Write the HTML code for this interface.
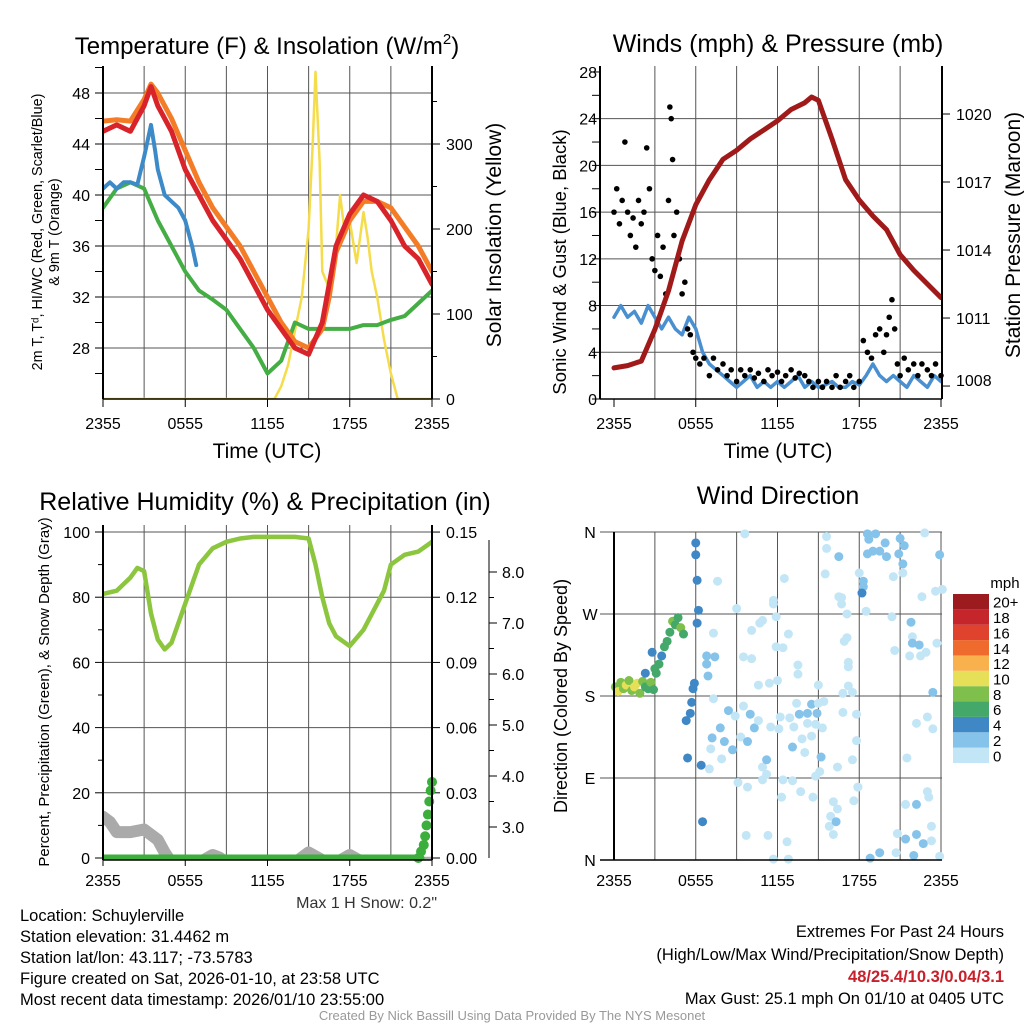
<!DOCTYPE html>
<html><head><meta charset="utf-8"><style>
html,body{margin:0;padding:0;background:#fff;}
svg{display:block;font-family:"Liberation Sans",Arial,sans-serif;}
</style></head><body>
<svg id="c" width="1024" height="1024" viewBox="0 0 1024 1024" xmlns="http://www.w3.org/2000/svg"></svg>
<script>
// ---------- DATA ----------
const hourTimes=[0,1,2,3,3.5,4,5,6,7,8,9,10,11,12,13,14,15,16,16.5,17,18,19,20,21,22,23,24];
const tempValues=[45,45.5,45,47,48.5,47,45,42,40,38,36.5,35,33,31,29.5,28,27.5,30,33,36,38.5,40,39.5,38,36,35,33];
const temp9mValues=[45.8,45.9,45.8,47.5,48.7,48,46,43.5,41,39,37.5,36,34,32,30,28.5,28,29.5,32,35.5,38,39.5,39.5,39,37.5,36,34];
const dewTimes=[0,1,2,3,4,5,6,7,8,9,10,11,12,13,14,15,16,17,18,19,20,21,22,23,24];
const dewValues=[39,40.5,41,40.5,38,36,34,32.5,31.8,31,29.5,28,26,27,30,29.5,29.5,29.5,29.5,29.8,29.8,30.2,30.5,31.5,32.5];
const chillTimes=[0,0.5,1,1.5,2,2.5,3,3.2,3.5,3.8,4,4.5,5,5.5,6,6.5,6.8];
const chillValues=[40.5,41,40.5,41,41,40.8,43,44,45.5,43.5,42,40,39.5,39,38,36,34.5];
const solarTimes=[0,12.5,13,13.5,14,14.5,15,15.3,15.5,15.8,16,16.5,17,17.3,17.6,18,18.5,19,19.3,19.6,20,20.5,21,21.5,24];
const solarValues=[0,0,15,40,80,120,200,300,385,280,150,130,180,240,200,210,160,220,190,150,120,70,30,0,0];

const windTimes=[];for(let i=0;i<=48;i++)windTimes.push(i/2);
const windValues=[7,8,7,7.5,6.5,8,7,6,7,6,5.5,7,6,4,3,2.5,2,1.5,1,1.5,2,1,1.5,1,1.5,1,1.5,2,1,1.5,1,1.2,1.5,1,1,1.5,1.2,2,3,2,1.5,2,1.5,1,2,1.5,1,2,1.5];
const gustTimes=[0,0.2,0.4,0.6,0.8,1,1.2,1.4,1.6,1.8,2,2.2,2.4,2.6,2.8,3,3.2,3.4,3.6,3.8,4,4.1,4.2,4.3,4.4,4.6,4.8,5,5.2,5.4,5.6,5.8,6,6.3,6.6,7,7.3,7.6,8,8.3,8.6,9,9.3,9.6,10,10.3,10.6,11,11.3,11.6,12,12.3,12.6,13,13.3,13.6,14,14.3,14.6,15,15.3,15.6,16,16.3,16.6,17,17.3,17.6,18,18.3,18.6,18.9,19.2,19.5,19.8,20,20.2,20.4,20.6,20.8,21,21.3,21.6,22,22.3,22.6,23,23.3,23.6,24];
const gustValues=[16,18,15,17,22,16,14,15.5,13,17,15,16,21.5,18,12,11,14,10.5,13,9,17,25,24,20.5,14,16,12,9,10,6,5.5,4,3.5,3,3.5,2,3.5,2.5,3,2,2.5,1.5,2.5,2,2.5,1.8,2.2,1.5,2.5,2,2.3,1.5,2,2.5,1.8,2.2,2,1.5,1,1.5,1,1.5,1,2,1,1.5,2,1,1.5,5,4,3.5,5.5,6,4,5.5,7,8.5,6,3,2,3.5,2.5,3,2,3,2.5,2,3,2];
const presTimes=[0,1,2,3,4,5,6,7,8,9,10,11,12,13,14,14.5,15,16,17,18,19,20,21,22,23,24];
const presValues=[1008.8,1008.9,1009.1,1010.5,1012.2,1014.4,1016.0,1017.1,1018.0,1018.4,1018.9,1019.3,1019.7,1020.2,1020.5,1020.75,1020.6,1018.9,1017.1,1016.2,1015.5,1014.9,1013.8,1013.1,1012.5,1011.9];

const rhTimes=[0,1,2,2.5,3,3.5,4,4.5,5,6,7,8,9,10,11,12,13,14,15,15.5,16,16.5,17,18,19,20,20.5,21,22,23,24];
const rhValues=[81,82,86,89,88,75,67,64,66,78,90,95,97,98,98.5,98.5,98.5,98.5,98,90,80,72,68,65,70,78,82,90,93,94,97];
const precipTimes=[0,3,6,9,12,15,18,21,23,23.2,23.4,23.5,23.6,23.7,23.8,23.9,24];
const precipValues=[0,0,0,0,0,0,0,0,0,0.003,0.006,0.01,0.015,0.02,0.026,0.031,0.035];
const snowTimes=[0,0.5,1,2,3,4,4.5,5,6,7,8,8.5,9,12,14,15,16,17,18,19,20,22,24];
const snowValues=[3.2,3.1,2.9,2.9,2.95,2.75,2.5,2.3,2.3,2.3,2.45,2.4,2.3,2.3,2.3,2.5,2.35,2.3,2.45,2.3,2.3,2.3,2.3];

const dirTimes=[0.1,0.3,0.5,0.7,0.9,1.1,1.3,1.5,1.7,1.9,2.1,2.3,2.5,2.7,2.9,3.1,3.3,3.5,3.7,3.9,4.1,4.3,4.5,4.7,4.9,5.1,2.3,2.8,3.0,
6.0,6.0,6.1,6.2,6.1,5.9,5.8,5.7,5.6,5.3,5.4,6.4,6.5,
9.6,7.6,9.0,7.3,6.8,7.4,6.8,6.9,7.3,8.4,8.9,7.8,7.2,8.1,8.7,9.5,10,10.3,9.3,9.8,7.1,7.9,7.0,9.1,9.8,9.7,11.3,11.7,12.8,12.7,10.9,11.2,11.2,10.9,12.4,13.1,12.3,13.7,14.6,15.1,14.8,15.2,13.1,14,13.8,14.5,15.3,14.8,14.2,13.6,14.2,14.9,14.5,13.4,12.9,13.2,12.2,12.1,11.5,10.6,10.6,11.4,12.0,13.5,13.5,10.1,9.5,11.9,12.4,12.8,10.1,10.7,10.9,11.9,11.7,11.7,12.5,
15.6,15.6,16.5,15.5,16.7,16.7,17.1,17.1,16.9,17.2,17.2,17.2,17.5,16.8,16.8,17.8,17.8,17.5,16.4,17.9,17.6,16.1,16.4,15.9,15.8,16.1,16.3,15,15.4,15.0,
18,18.3,18.3,18.2,18.5,18.6,18.7,19.2,19,18.6,19.5,19.9,20,20.5,20.4,20.6,21,21.3,20.9,21.2,21.2,21.8,21.9,21.9,22.4,21.7,22.5,22.9,22.6,22.8,23.6,24.1,23.9,23.7,23.4,22.2,23,23.4,21.5,21.4,22.2,23,23.1,23.3,22.2,20.8,21.4,22.7,23.3,20.7,22,19.5,18.8,23.9,17.9,16.5];
const dirValues=[190,185,195,188,192,197,186,190,194,183,196,190,188,195,187,205,215,224,234,240,250,262,258,266,255,248,205,228,210,
348,335,307,274,260,194,188,173,161,153,112,104,42,
358,306,276,249,224,223,215,202,177,164,158,145,134,130,121,169,160,145,135,130,122,111,100,85,80,27,27,1,1,20,102,110,94,88,88,87,69,75,69,97,92,113,124,118,133,136,145,149,150,160,161,161,171,172,156,146,157,144,146,153,192,194,197,204,214,221,223,234,233,248,252,260,263,267,285,281,309,
355,342,333,314,288,281,270,244,240,217,212,191,184,183,162,160,131,110,102,80,65,64,56,48,37,28,42,192,174,172,
315,306,300,293,273,358,352,358,339,336,339,348,333,311,267,230,353,345,336,325,315,261,245,238,236,224,224,228,289,359,295,297,335,238,184,150,157,144,112,61,61,75,69,37,28,29,23,18,21,8,5,8,2,4,80,289];
const dirSpeeds=[9,10,9,8,11,9,8,10,11,9,8,7,7,8,6,7,6,5,7,7,7,8,7,7,9,7,5,5,7,
5,5,5,4,5,5,5,5,5,5,5,5,5,
1,1,1,1,3,3,3,3,1,3,1,3,3,3,3,1,3,3,1,3,1,1,1,1,1,1,1,1,1,1,1,3,1,1,1,1,1,1,1,1,1,3,3,1,1,1,1,1,1,3,3,3,3,1,1,1,1,1,1,1,1,1,1,1,1,1,1,1,1,1,1,1,1,1,1,1,1,
1,1,3,1,1,1,1,1,1,1,1,1,1,1,1,1,1,1,1,1,1,1,1,1,1,1,3,1,1,1,
1,3,3,5,1,3,3,3,3,3,3,3,3,1,1,1,3,3,3,3,1,3,1,3,3,1,1,1,1,1,1,1,3,1,3,1,1,1,1,1,3,1,1,1,3,1,3,3,1,1,3,3,3,1,1,1];
const speedBins=[0,2,4,6,8,10,12,14,16,18,20];
const speedColors=["#c3e6f7","#86c3ea","#3f88c5","#45a86b","#7ec04b","#e6df58","#f8b14d","#ef6b2d","#e0432d","#c5262b","#9b1b1e"];
const speedLabels=["0","2","4","6","8","10","12","14","16","18","20+"];

// ---------- helpers ----------
const S=document.getElementById('c');const NS='http://www.w3.org/2000/svg';
function mk(tag,a,p){const e=document.createElementNS(NS,tag);for(const k in a)e.setAttribute(k,a[k]);(p||S).appendChild(e);return e;}
function txt(x,y,s,size,anchor,name,extra){const e=mk('text',Object.assign({x:x,y:y,'font-size':size,'text-anchor':anchor||'middle',fill:'#000'},extra||{}));e.textContent=s;


return e;}
function line(x1,y1,x2,y2,st,w,name){const e=mk('line',{x1:x1,y1:y1,x2:x2,y2:y2,stroke:st,'stroke-width':w});


return e;}
function path(ts,vs,fx,fy,col,w,name,clip){let d='';let pen=false;for(let i=0;i<ts.length;i++){if(vs[i]===null){pen=false;continue;}d+=(pen?'L':'M')+fx(ts[i]).toFixed(1)+','+fy(vs[i]).toFixed(1);pen=true;}
const e=mk('path',{d:d,fill:'none',stroke:col,'stroke-width':w,'stroke-linejoin':'round','stroke-linecap':'round'});if(clip)e.setAttribute('clip-path','url(#'+clip+')');


return e;}
const defs=mk('defs',{});
function clipRect(id,x,y,w,h){const c=mk('clipPath',{id:id},defs);mk('rect',{x:x,y:y,width:w,height:h},c);}
const timeLabels=["2355","0555","1155","1755","2355"];
const timeTicks=[0,6,12,18,24];
const TK=16;

// ---------- PANEL 1 ----------
const x1=h=>103+h*13.708;const yT=t=>399-(t-24)*12.75;const yS=s=>399-s*0.85;
clipRect('c1',103,66,329,333);
for(let h=3;h<24;h+=3)line(x1(h),66,x1(h),399,'#555',1,'p1-vgrid');
for(let t=28;t<=48;t+=4)line(103,yT(t),432,yT(t),'#555',1,'p1-hgrid');
for(let t=26;t<=50;t+=2)line(95,yT(t),103,yT(t),'#000',1,'p1-ytick');
for(let s=0;s<=300;s+=100)line(432,yS(s),440,yS(s),'#000',1,'p1-y2tick');
for(let s=50;s<=350;s+=100)line(432,yS(s),437,yS(s),'#000',1,'p1-y2tick-minor');
timeTicks.forEach((h,i)=>{line(x1(h),399,x1(h),407,'#000',1,'p1-xtick');txt(x1(h),429,timeLabels[i],TK,'middle','p1-xlabel');});
for(let t=28;t<=48;t+=4)txt(90,yT(t)+6,String(t),TK,'end','p1-ylabel');
for(let s=0;s<=300;s+=100)txt(446,yS(s)+6,String(s),TK,'start','p1-y2label');
path(solarTimes,solarValues,x1,yS,'#f5dc4a',2.5,'solar-line','c1');
path(dewTimes,dewValues,x1,yT,'#44ad44',4,'dewpoint-line','c1');
path(hourTimes,temp9mValues,x1,yT,'#f47c26',5,'temp-9m-line','c1');
path(hourTimes,tempValues,x1,yT,'#d8232a',5,'temp-2m-line','c1');
path(chillTimes,chillValues,x1,yT,'#3c8ac8',4,'windchill-line','c1');
line(103,66,103,399,'#000',2,'p1-left-axis');line(432,66,432,399,'#000',2,'p1-right-axis');line(103,399,432,399,'#000',1.5,'p1-bottom-axis');
const t1=txt(267,54,'Temperature (F) & Insolation (W/m',24,'middle','p1-title');const sup=mk('tspan',{dy:-10,'font-size':15},t1);sup.textContent='2';const sp2=mk('tspan',{dy:10},t1);sp2.textContent=')';
txt(267,458,'Time (UTC)',21,'middle','p1-x-title');
txt(0,0,'2m T, T\u1D48, HI/WC (Red, Green, Scarlet/Blue)',14.4,'middle','p1-y-title',{transform:'translate(42,232) rotate(-90)'});
txt(0,0,'& 9m T (Orange)',14.4,'middle','p1-y-title-2',{transform:'translate(59,232) rotate(-90)'});
txt(0,0,'Solar Insolation (Yellow)',21,'middle','p1-y2-title',{transform:'translate(501,235) rotate(-90)'});

// ---------- PANEL 2 ----------
const x2=h=>614+h*13.625;const yW=v=>399-v*11.68;const yP=p=>114+(1020-p)*22.67;
clipRect('c2',600,66,342,333);
for(let h=3;h<24;h+=3)line(x2(h),66,x2(h),399,'#555',1,'p2-vgrid');
for(let v=4;v<=24;v+=4)line(600,yW(v),942,yW(v),'#555',1,'p2-hgrid');
for(let v=0;v<=28;v+=2)line(592,yW(v),600,yW(v),'#000',1,'p2-ytick');
for(let p=1008;p<=1020;p+=3)line(942,yP(p),950,yP(p),'#000',1,'p2-y2tick');
timeTicks.forEach((h,i)=>{line(x2(h),399,x2(h),407,'#000',1,'p2-xtick');txt(x2(h),429,timeLabels[i],TK,'middle','p2-xlabel');});
for(let v=0;v<=28;v+=4)txt(597,yW(v)+6,String(v),TK,'end','p2-ylabel');
for(let p=1008;p<=1020;p+=3)txt(956,Math.min(yP(p),380)+6,String(p),TK,'start','p2-y2label');
path(windTimes,windValues,x2,yW,'#4a8fd0',3.5,'sonic-wind-line','c2');
gustTimes.forEach((h,i)=>{const c=mk('circle',{cx:x2(h),cy:yW(gustValues[i]),r:2.8,fill:'#000'});

});
path(presTimes,presValues,x2,yP,'#a01a1a',5,'pressure-line','c2');
line(600,66,600,399,'#000',2,'p2-left-axis');line(942,66,942,399,'#000',2,'p2-right-axis');line(600,399,942,399,'#000',1.5,'p2-bottom-axis');
txt(778,52,'Winds (mph) & Pressure (mb)',25,'middle','p2-title');
txt(778,458,'Time (UTC)',21,'middle','p2-x-title');
txt(0,0,'Sonic Wind & Gust (Blue, Black)',18.5,'middle','p2-y-title',{transform:'translate(566,262) rotate(-90)'});
txt(0,0,'Station Pressure (Maroon)',21,'middle','p2-y2-title',{transform:'translate(1020,235) rotate(-90)'});

// ---------- PANEL 3 ----------
const x3=x1;const yRH=r=>858-r*3.26;const yPr=p=>858-p*2173;const ySn=d=>827-(d-3)*51;
clipRect('c3',103,525,329,335);
for(let h=3;h<24;h+=3)line(x3(h),525,x3(h),860,'#555',1,'p3-vgrid');
for(let r=0;r<=100;r+=20)line(103,yRH(r),432,yRH(r),'#555',1,'p3-hgrid');
for(let r=0;r<=100;r+=20)line(95,yRH(r),103,yRH(r),'#000',1,'p3-ytick');
for(let r=10;r<=90;r+=20)line(98,yRH(r),103,yRH(r),'#000',1,'p3-ytick-minor');
for(let k=0;k<=5;k++)line(432,yPr(k*0.03),440,yPr(k*0.03),'#000',1,'p3-y2tick');
line(489,540,489,858,'#000',1,'snow-axis');
for(let d=3;d<=8;d++)line(489,ySn(d),497,ySn(d),'#000',1,'snow-tick');
for(let d=3.5;d<=8;d++)line(489,ySn(d),494,ySn(d),'#000',1,'snow-tick-minor');
timeTicks.forEach((h,i)=>{line(x3(h),860,x3(h),866,'#000',1,'p3-xtick');txt(x3(h),886,timeLabels[i],TK,'middle','p3-xlabel');});
for(let r=0;r<=100;r+=20)txt(90,yRH(r)+6,String(r),TK,'end','p3-ylabel');
for(let k=0;k<=5;k++)txt(446,yPr(k*0.03)+6,(k*0.03).toFixed(2),TK,'start','p3-y2label');
for(let d=3;d<=8;d++)txt(502,ySn(d)+6,d.toFixed(1),TK,'start','snow-label');
path(snowTimes,snowValues,x3,ySn,'#aaaaaa',12,'snow-depth-line','c3');
path(rhTimes,rhValues,x3,yRH,'#8cc63f',4.5,'rh-line','c3');
path([0,23.2],[0,0],x3,yPr,'#3cae3c',7,'precip-baseline','c3');
precipTimes.forEach((h,i)=>{if(h<23)return;const c=mk('circle',{cx:x3(h),cy:yPr(precipValues[i]),r:5,fill:'#3cae3c'});

});
line(103,525,103,860,'#000',2,'p3-left-axis');line(432,525,432,860,'#000',2,'p3-right-axis');line(103,860,432,860,'#000',1.5,'p3-bottom-axis');
txt(265,510,'Relative Humidity (%) & Precipitation (in)',25,'middle','p3-title');
txt(0,0,'Percent, Precipitation (Green), & Snow Depth (Gray)',15,'middle','p3-y-title',{transform:'translate(49,692) rotate(-90)'});
txt(437,908,'Max 1 H Snow: 0.2"',16,'end','max-snow-note',{fill:'#333'});

// ---------- PANEL 4 ----------
const x4=x2;const yD=d=>860-d*0.9111;
const dirNames=['N','E','S','W','N'];
for(let h=0;h<=24;h+=3)line(x4(h),532,x4(h),860,'#555',1,'p4-vgrid');
for(let k=0;k<=4;k++){line(600,yD(k*90),942,yD(k*90),'#555',1,'p4-hgrid');txt(590,yD(k*90)+6,dirNames[k],TK,'middle','p4-ylabel');}
timeTicks.forEach((h,i)=>{txt(x4(h),886,timeLabels[i],TK,'middle','p4-xlabel');});
function spdColor(s){let i=0;while(i<speedBins.length-1&&s>=speedBins[i+1])i++;return speedColors[i];}
dirTimes.forEach((h,i)=>{const c=mk('circle',{cx:x4(h),cy:yD(dirValues[i]),r:4.5,fill:spdColor(dirSpeeds[i])});

});
line(614,532,614,860,'#000',2,'p4-left-axis');line(600,860,942,860,'#000',1.5,'p4-bottom-axis');
txt(778,504,'Wind Direction',25,'middle','p4-title');
txt(0,0,'Direction (Colored By Speed)',18,'middle','p4-y-title',{transform:'translate(567,696) rotate(-90)'});
// colorbar
txt(1005,588,'mph',15,'middle','colorbar-title');
speedLabels.forEach((lab,i)=>{const bh=169/11;const y=763-(i+1)*bh;const r=mk('rect',{x:953,y:y,width:36,height:bh,fill:speedColors[i]});


txt(993,y+bh/2+6,lab,15,'start','colorbar-label');});

// ---------- footer text ----------
const info=['Location: Schuylerville','Station elevation: 31.4462 m','Station lat/lon: 43.117; -73.5783','Figure created on Sat, 2026-01-10, at 23:58 UTC','Most recent data timestamp: 2026/01/10 23:55:00'];
info.forEach((s,i)=>txt(20,921+i*21,s,16.5,'start','station-info-line'));
txt(1004,937,'Extremes For Past 24 Hours',16.5,'end','extremes-title');
txt(1004,960,'(High/Low/Max Wind/Precipitation/Snow Depth)',16.5,'end','extremes-subtitle');
txt(1004,982,'48/25.4/10.3/0.04/3.1',16.5,'end','extremes-values',{fill:'#c8202a','font-weight':'bold'});
txt(1004,1004,'Max Gust: 25.1 mph On 01/10 at 0405 UTC',16.5,'end','max-gust-note');
txt(512,1020,'Created By Nick Bassill Using Data Provided By The NYS Mesonet',13,'middle','credit-line',{fill:'#999'});
</script>
</body></html>
